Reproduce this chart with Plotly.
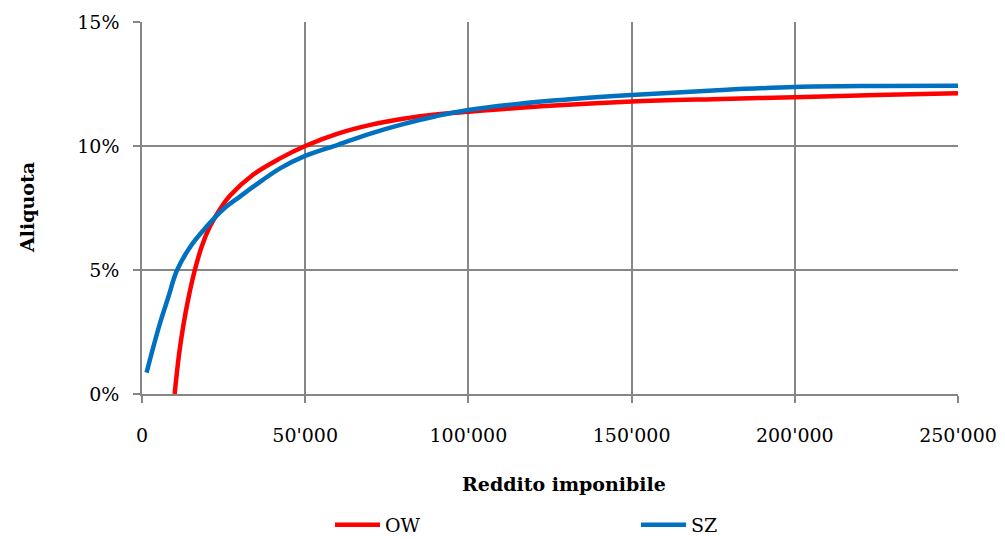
import plotly.graph_objects as go

# Taxable income (CHF) and average tax rate (%) for the two tariff models
ow_income = [10000, 11400, 12650, 14200, 15900, 18300, 20800, 23900, 27000,
             34100, 42300, 50000, 60000, 70000, 80000, 90000, 100000,
             125000, 150000, 175000, 200000, 225000, 250000]
ow_rate = [0.0, 1.65, 2.75, 3.85, 4.85, 5.95, 6.75, 7.45, 8.00,
           8.85, 9.50, 10.00, 10.50, 10.85, 11.10, 11.27, 11.38,
           11.62, 11.79, 11.89, 11.97, 12.06, 12.13]

sz_income = [1400, 3500, 5500, 8100, 10600, 14700, 19800, 24900, 30000,
             34100, 42300, 50000, 60000, 70000, 80000, 90000, 100000,
             125000, 150000, 175000, 200000, 225000, 250000]
sz_rate = [0.86, 1.91, 2.85, 3.92, 4.95, 5.92, 6.75, 7.45, 7.96,
           8.36, 9.10, 9.60, 10.05, 10.50, 10.88, 11.20, 11.45,
           11.82, 12.06, 12.24, 12.38, 12.42, 12.43]

x_ticks = [0, 50000, 100000, 150000, 200000, 250000]
x_tick_text = ["0", "50'000", "100'000", "150'000", "200'000", "250'000"]
y_ticks = [0, 0.05, 0.10, 0.15]
y_tick_text = ["0%", "5%", "10%", "15%"]

FONT = "DejaVu Serif"
GRID = "#868686"

fig = go.Figure()
fig.add_trace(go.Scatter(
    x=ow_income, y=[v / 100 for v in ow_rate], name="OW", mode="lines",
    line=dict(color="#FF0000", width=4.5, shape="spline", smoothing=1.0),
))
fig.add_trace(go.Scatter(
    x=sz_income, y=[v / 100 for v in sz_rate], name="SZ", mode="lines",
    line=dict(color="#0070C0", width=4.5, shape="spline", smoothing=1.0),
))

fig.update_layout(
    width=1005, height=539,
    margin=dict(l=142, r=47, t=22, b=145, autoexpand=False),
    paper_bgcolor="white", plot_bgcolor="white",
    font=dict(family=FONT, size=19, color="#000000"),
    showlegend=True,
    legend=dict(
        orientation="h", xref="container", yref="container",
        x=330 / 1005, xanchor="left",
        y=1 - 525 / 539, yanchor="middle",
        entrywidth=246, entrywidthmode="pixels",
        font=dict(family=FONT, size=19), itemwidth=45,
        bgcolor="rgba(0,0,0,0)",
    ),
    xaxis=dict(
        range=[0, 250000], tickvals=x_ticks, ticktext=x_tick_text,
        showgrid=True, gridcolor=GRID, gridwidth=1.5,
        showline=True, linecolor=GRID, linewidth=1.5,
        ticks="outside", ticklen=7, tickcolor=GRID, tickwidth=1.5,
        ticklabelstandoff=16,
        zeroline=False, fixedrange=True,
    ),
    yaxis=dict(
        range=[0, 0.15], tickvals=y_ticks, ticktext=y_tick_text,
        showgrid=True, gridcolor=GRID, gridwidth=1.5,
        showline=True, linecolor=GRID, linewidth=1.5,
        ticks="outside", ticklen=7, tickcolor=GRID, tickwidth=1.5,
        ticklabelstandoff=10,
        zeroline=False, fixedrange=True,
    ),
    annotations=[
        dict(text="<b>Reddito imponibile</b>", xref="paper", yref="paper",
             x=(564 - 142) / 816, y=(394 - 484) / 372,
             xanchor="center", yanchor="middle", showarrow=False,
             font=dict(family=FONT, size=19)),
        dict(text="<b>Aliquota</b>", xref="paper", yref="paper",
             x=(27 - 142) / 816, y=0.5, textangle=-90,
             xanchor="center", yanchor="middle", showarrow=False,
             font=dict(family=FONT, size=19)),
    ],
)

fig.write_html("out.html")
